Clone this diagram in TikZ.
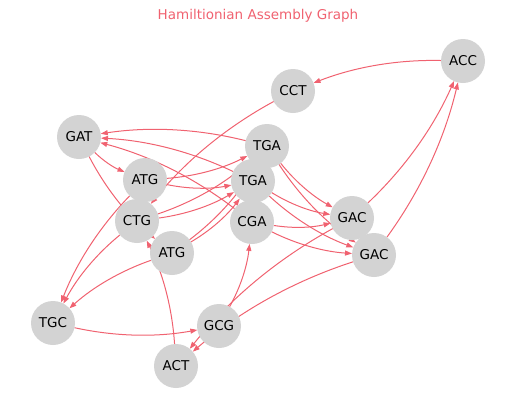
\documentclass[tikz,border=0pt]{standalone}
\usepackage{fontspec}
\setmainfont{DejaVu Sans}
\usetikzlibrary{arrows.meta}
\definecolor{ecol}{RGB}{240,98,112}
\definecolor{ncol}{RGB}{211,211,211}
\pgfdeclarelayer{edgelayer}
\pgfsetlayers{edgelayer,main}
\begin{document}
\begin{tikzpicture}[x=1pt,y=-1pt,
  vtx/.style={circle,fill=ncol,minimum size=44pt,inner sep=0pt,outer sep=0pt,font=\fontsize{13.5}{16}\selectfont},
  conn/.style={draw=ecol,line width=1pt,-{Triangle[length=7pt,width=5pt]},bend right=11.3,looseness=0.87}]
\useasboundingbox (0,0) rectangle (515,408);
\node[text=ecol,font=\fontsize{13.5}{16}\selectfont] (title) at (258,16) {Hamiltionian Assembly Graph};
\node[vtx] (ACC) at (463,61) {ACC};
\node[vtx] (CCT) at (293,91) {CCT};
\node[vtx] (GAT) at (79,137) {GAT};
\node[vtx] (TGA1) at (267,146) {TGA};
\node[vtx] (ATG1) at (145,180) {ATG};
\node[vtx] (TGA2) at (253,181) {TGA};
\node[vtx] (CTG) at (137,221) {CTG};
\node[vtx] (CGA) at (252,222) {CGA};
\node[vtx] (GAC1) at (352,218) {GAC};
\node[vtx] (ATG2) at (172,253) {ATG};
\node[vtx] (GAC2) at (374,255) {GAC};
\node[vtx] (TGC) at (53,323) {TGC};
\node[vtx] (GCG) at (219,326) {GCG};
\node[vtx] (ACT) at (176,366) {ACT};
\begin{pgfonlayer}{edgelayer}
\draw[conn] (ACC) to (CCT);
\draw[conn] (CCT) to (CTG);
\draw[conn] (GAT) to (ATG1);
\draw[conn] (GAT) to (ATG2);
\draw[conn] (ATG1) to (TGA1);
\draw[conn] (ATG1) to (TGA2);
\draw[conn] (ATG1) to (TGC);
\draw[conn] (ATG2) to (TGA1);
\draw[conn] (ATG2) to (TGA2);
\draw[conn] (ATG2) to (TGC);
\draw[conn] (CTG) to (TGA1);
\draw[conn] (CTG) to (TGA2);
\draw[conn] (CTG) to (TGC);
\draw[conn] (TGA1) to (GAT);
\draw[conn] (TGA1) to (GAC1);
\draw[conn] (TGA1) to (GAC2);
\draw[conn] (TGA2) to (GAT);
\draw[conn] (TGA2) to (GAC1);
\draw[conn] (TGA2) to (GAC2);
\draw[conn] (CGA) to (GAT);
\draw[conn] (CGA) to (GAC1);
\draw[conn] (CGA) to (GAC2);
\draw[conn] (GAC1) to (ACC);
\draw[conn] (GAC1) to (ACT);
\draw[conn] (GAC2) to (ACC);
\draw[conn] (GAC2) to (ACT);
\draw[conn] (TGC) to (GCG);
\draw[conn] (GCG) to (CGA);
\draw[conn] (ACT) to (CTG);
\end{pgfonlayer}
\end{tikzpicture}
\end{document}
